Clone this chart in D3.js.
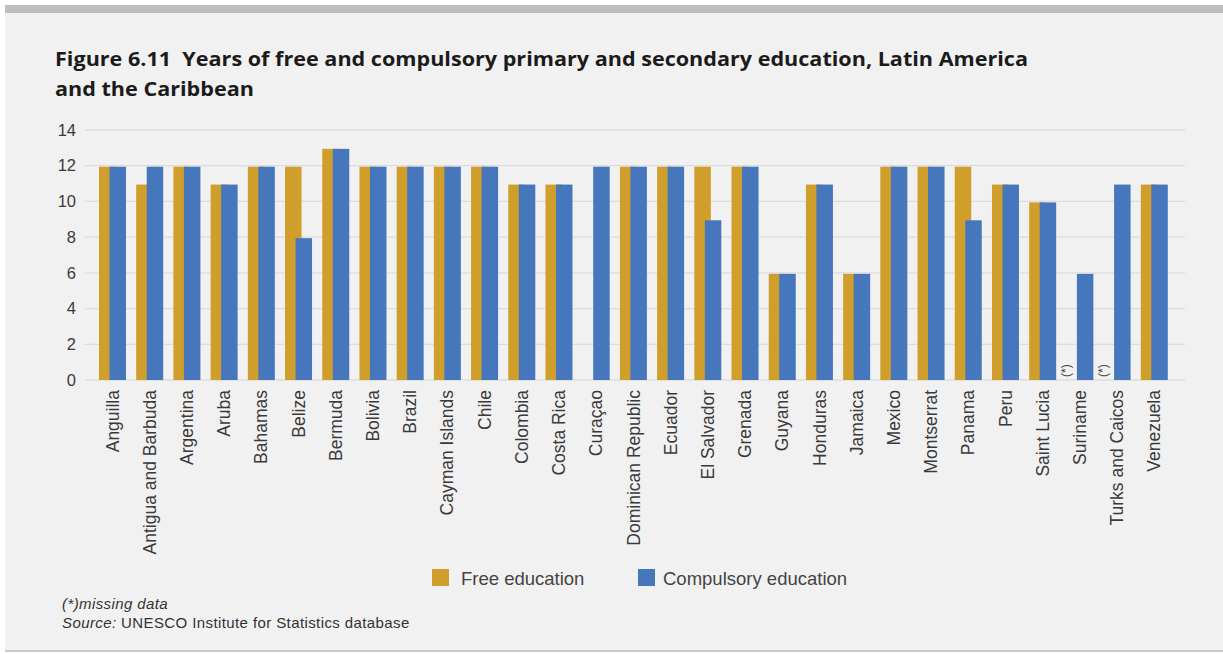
<!DOCTYPE html>
<html>
<head>
<meta charset="utf-8">
<script src="https://cdn.jsdelivr.net/npm/d3@7"></script>
<style>
  body { margin: 0; background: #fff; }
  svg { display: block; }
</style>
</head>
<body>
<script>
// categories and values
const countries = ["Anguilla", "Antigua and Barbuda", "Argentina", "Aruba", "Bahamas", "Belize",
  "Bermuda", "Bolivia", "Brazil", "Cayman Islands", "Chile", "Colombia", "Costa Rica", "Curaçao",
  "Dominican Republic", "Ecuador", "El Salvador", "Grenada", "Guyana", "Honduras", "Jamaica",
  "Mexico", "Montserrat", "Panama", "Peru", "Saint Lucia", "Suriname", "Turks and Caicos", "Venezuela"];
const freeEducation = [12, 11, 12, 11, 12, 12, 13, 12, 12, 12, 12, 11, 11, null,
  12, 12, 12, 12, 6, 11, 6, 12, 12, 12, 11, 10, null, null, 11];
const compulsoryEducation = [12, 12, 12, 11, 12, 8, 13, 12, 12, 12, 12, 11, 11, 12,
  12, 12, 9, 12, 6, 11, 6, 12, 12, 9, 11, 10, 6, 11, 11];
const missingMarked = ["Suriname", "Turks and Caicos"];
const yTicks = [0, 2, 4, 6, 8, 10, 12, 14];
const seriesNames = ["Free education", "Compulsory education"];

const W = 1223, H = 654;
const colors = {free: "#D09E2B", comp: "#4677BD"};

const svg = d3.select("body").append("svg")
  .attr("width", W).attr("height", H);

// panel background and frame
svg.append("rect").attr("x", 5).attr("y", 5).attr("width", W - 5).attr("height", H - 8)
  .attr("fill", "#f1f1f1");
svg.append("rect").attr("x", 5).attr("y", 5).attr("width", W - 5).attr("height", 8)
  .attr("fill", "#bebebe");
svg.append("rect").attr("x", 5).attr("y", 650).attr("width", W - 5).attr("height", 2)
  .attr("fill", "#c9c9c9");

// title
const title = svg.append("text")
  .attr("font-family", "'Open Sans', Lato, sans-serif")
  .attr("font-weight", 700).attr("font-size", 20).attr("fill", "#1b1b1b")
  .style("white-space", "pre");
const t1 = title.append("tspan").attr("x", 55).attr("y", 66)
  .text("Figure 6.11\u00a0 Years of free and compulsory primary and secondary education, Latin America");
const t2 = title.append("tspan").attr("x", 55).attr("y", 96).text("and the Caribbean");
// stretch the first line to the width it has in the figure
const len1 = t1.node().getComputedTextLength();
const k = 973 / len1;
t1.attr("textLength", 973).attr("lengthAdjust", "spacingAndGlyphs");
t2.attr("textLength", t2.node().getComputedTextLength() * k).attr("lengthAdjust", "spacingAndGlyphs");

const x = d3.scaleBand().domain(countries).range([93.9, 1172.9]);
const y = d3.scaleLinear().domain([0, 14]).range([380, 130]);

// gridlines
svg.append("g").selectAll("line").data(yTicks).join("line")
  .attr("x1", 85).attr("x2", 1185)
  .attr("y1", d => y(d)).attr("y2", d => y(d))
  .attr("stroke", "#dcdcdc").attr("stroke-width", 1.3);

// y axis
const yAxis = svg.append("g").attr("transform", "translate(76,0)")
  .call(d3.axisLeft(y).tickValues(yTicks).tickSize(0).tickPadding(0));
yAxis.select(".domain").remove();
yAxis.selectAll("text").attr("font-family", "'Liberation Sans', Arial, sans-serif")
  .attr("font-size", 16.5).attr("fill", "#3a3a3a");

const bw = 16.5;
const rows = countries.map((c, i) => ({c, free: freeEducation[i], comp: compulsoryEducation[i]}));
const bars = svg.append("g");
bars.selectAll("rect.free").data(rows.filter(d => d.free != null)).join("rect")
  .attr("class", "free")
  .attr("x", d => x(d.c) + x.bandwidth() / 2 - 13.5)
  .attr("width", bw)
  .attr("y", d => y(d.free) + 1)
  .attr("height", d => y(0) - y(d.free) - 1)
  .attr("fill", colors.free);
bars.selectAll("rect.comp").data(rows.filter(d => d.comp != null)).join("rect")
  .attr("class", "comp")
  .attr("x", d => x(d.c) + x.bandwidth() / 2 - 3)
  .attr("width", bw)
  .attr("y", d => y(d.comp) + 1)
  .attr("height", d => y(0) - y(d.comp) - 1)
  .attr("fill", colors.comp);

// (*) markers for missing free education data
svg.append("g").selectAll("text").data(missingMarked).join("text")
  .attr("transform", d => `translate(${x(d) + x.bandwidth() / 2 - 10},377) rotate(-90)`)
  .attr("font-family", "'Liberation Sans', Arial, sans-serif")
  .attr("font-size", 12).attr("fill", "#444")
  .text("(*)");

// x axis labels
const xAxis = svg.append("g").attr("transform", "translate(0,380)")
  .call(d3.axisBottom(x).tickSize(0).tickPadding(0));
xAxis.select(".domain").remove();
xAxis.selectAll("text")
  .attr("font-family", "'Liberation Sans', Arial, sans-serif")
  .attr("font-size", 17.5).attr("fill", "#3a3a3a")
  .attr("transform", "rotate(-90)")
  .attr("text-anchor", "end")
  .attr("dy", "0.35em")
  .attr("x", -10).attr("y", 0);

// legend
const legend = svg.append("g").attr("font-family", "'Liberation Sans', Arial, sans-serif")
  .attr("font-size", 18.5).attr("fill", "#444");
const legendX = [432, 638];
const legendTextX = [461, 663];
seriesNames.forEach((name, i) => {
  legend.append("rect").attr("x", legendX[i]).attr("y", 569).attr("width", 17).attr("height", 17)
    .attr("fill", i === 0 ? colors.free : colors.comp);
  legend.append("text").attr("x", legendTextX[i]).attr("y", 585).text(name);
});

// footnotes
const foot = svg.append("g").attr("font-family", "'Liberation Sans', Arial, sans-serif")
  .attr("font-size", 15).attr("letter-spacing", 0.4).attr("fill", "#333");
foot.append("text").attr("x", 62).attr("y", 609).attr("font-style", "italic").text("(*)missing data");
const src = foot.append("text").attr("x", 62).attr("y", 628);
src.append("tspan").attr("font-style", "italic").text("Source:");
src.append("tspan").text(" UNESCO Institute for Statistics database");
</script>
</body>
</html>
